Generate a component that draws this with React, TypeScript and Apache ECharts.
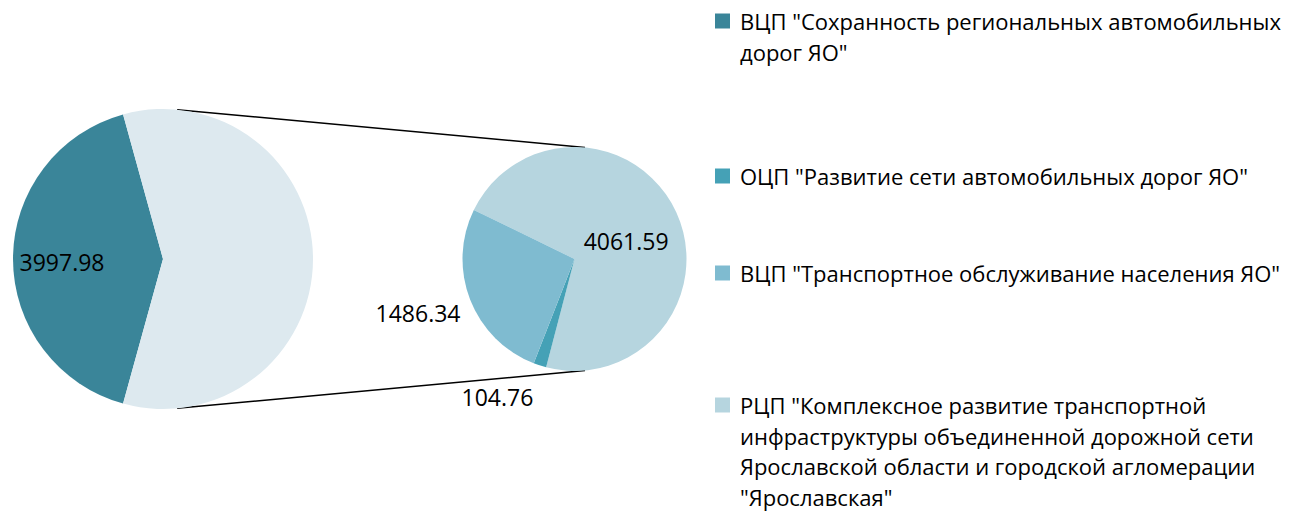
import React, { useEffect, useRef } from "react";
import * as echarts from "echarts";

const legendNames = [
  'ВЦП "Сохранность региональных автомобильных дорог ЯО"',
  'ОЦП "Развитие сети автомобильных дорог ЯО"',
  'ВЦП "Транспортное обслуживание населения ЯО"',
  'РЦП "Комплексное развитие транспортной инфраструктуры объединенной дорожной сети Ярославской области и городской агломерации "Ярославская"',
];
const legendLines = [
  ['ВЦП "Сохранность региональных автомобильных', 'дорог ЯО"'],
  ['ОЦП "Развитие сети автомобильных дорог ЯО"'],
  ['ВЦП "Транспортное обслуживание населения ЯО"'],
  [
    'РЦП "Комплексное развитие транспортной',
    "инфраструктуры объединенной дорожной сети",
    "Ярославской области и городской агломерации",
    '"Ярославская"',
  ],
];
const colors = ["#3a8599", "#45a1b6", "#7fbbd0", "#b6d5df"];
const otherColor = "#dde9ef";
const otherName = "Другие";

// values
const mainValue = 3997.98; // ВЦП Сохранность
const subValues = [104.76, 1486.34, 4061.59]; // ОЦП, ВЦП Транспорт, РЦП

// layout
const FONT = "'Open Sans', sans-serif";
const leftC = [163, 259];
const leftR = 150;
const rightC = [574.5, 259];
const rightR = 112;
const legendIconCenters = [21, 176, 273, 405];
const LH = 30.5;

export default function App() {
  const ref = useRef<HTMLDivElement>(null);
  useEffect(() => {
    document.body.style.margin = "0";
    const chart = echarts.init(ref.current!, null, { renderer: "svg" });
    const otherSum = subValues.reduce((a, b) => a + b, 0);
    const total = otherSum + mainValue;
    const mainAngle = (mainValue / total) * 360;

    const rightData = [
      { name: legendNames[3], value: subValues[2], itemStyle: { color: colors[3] },
        label: { show: true, position: "inside" } },
      { name: legendNames[1], value: subValues[0], itemStyle: { color: colors[1] },
        label: { show: true, position: "outside" } },
      { name: legendNames[2], value: subValues[1], itemStyle: { color: colors[2] },
        label: { show: true, position: "outside" } },
    ];

    const connAngle = (84.6 * Math.PI) / 180;
    const lineEl = (sign: number) => ({
      type: "line",
      silent: true,
      shape: {
        x1: leftC[0] + leftR * Math.cos(connAngle),
        y1: leftC[1] - sign * leftR * Math.sin(connAngle),
        x2: rightC[0] + rightR * Math.cos(connAngle),
        y2: rightC[1] - sign * rightR * Math.sin(connAngle),
      },
      style: { stroke: "#000", lineWidth: 1.5 },
    });

    const legends = legendNames.map((name, i) => {
      const n = legendLines[i].length;
      return {
        data: [name],
        left: 715,
        top: legendIconCenters[i] - ((2 * n - 1) * LH) / 2,
        orient: "vertical",
        padding: 0,
        itemWidth: 15,
        itemHeight: 15,
        itemGap: 0,
        icon: "rect",
        selectedMode: false,
        formatter: () => "\n".repeat(n - 1) + legendLines[i].join("\n"),
        textStyle: {
          fontFamily: FONT,
          fontSize: 22,
          lineHeight: LH,
          color: "#000",
          padding: [0, 0, 0, 5],
        },
      };
    });

    const labelOffsets: Record<string, [number, number]> = {
      "0-0": [-23, 3],
      "1-0": [-2, 7],
      "1-1": [0, 27],
      "1-2": [0, 11],
    };

    chart.setOption({
      animation: false,
      legend: legends,
      graphic: [lineEl(1), lineEl(-1)],
      series: [
        {
          type: "pie",
          silent: true,
          center: leftC,
          radius: leftR,
          startAngle: 180 + mainAngle / 2,
          clockwise: true,
          avoidLabelOverlap: false,
          label: { show: false, fontFamily: FONT, fontSize: 23, color: "#000", formatter: "{c}" },
          labelLine: { show: false },
          data: [
            { name: legendNames[0], value: mainValue, itemStyle: { color: colors[0] },
              label: { show: true, position: "inside" } },
            { name: otherName, value: otherSum, itemStyle: { color: otherColor } },
          ],
          labelLayout: (p: any) => {
            const o = labelOffsets[`0-${p.dataIndex}`];
            return o ? { dx: o[0], dy: o[1] } : {};
          },
        },
        {
          type: "pie",
          silent: true,
          center: rightC,
          radius: rightR,
          startAngle: 154,
          clockwise: true,
          avoidLabelOverlap: false,
          label: { show: true, fontFamily: FONT, fontSize: 23, color: "#000", formatter: "{c}" },
          labelLine: { show: false, length: 5, length2: 0 },
          data: rightData,
          labelLayout: (p: any) => {
            const o = labelOffsets[`1-${p.dataIndex}`];
            return o ? { dx: o[0], dy: o[1] } : {};
          },
        },
      ],
    });
    return () => chart.dispose();
  }, []);
  return <div ref={ref} style={{ width: 1309, height: 512 }} />;
}
